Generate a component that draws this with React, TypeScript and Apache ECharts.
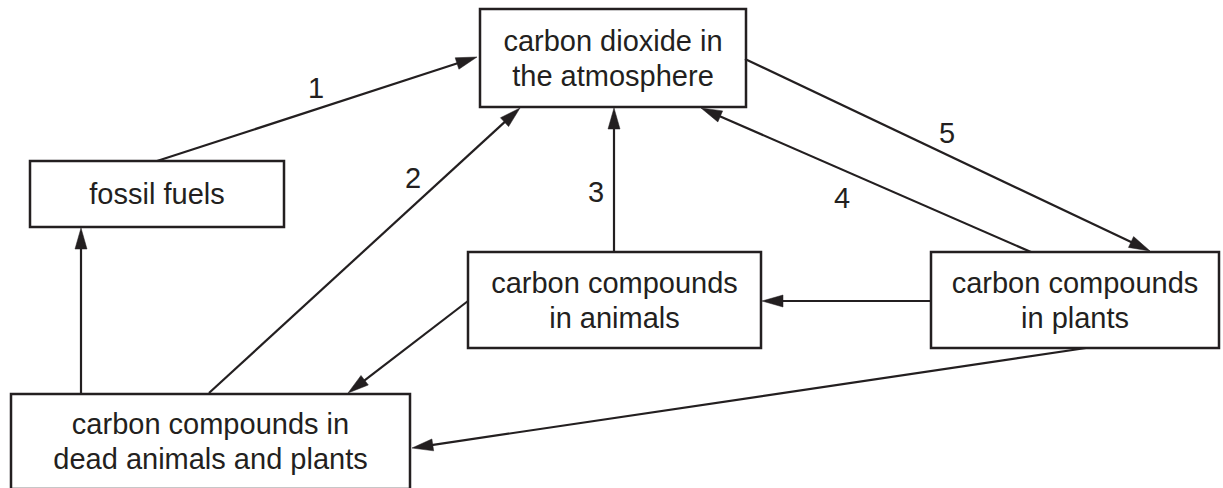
import React, { useEffect, useRef } from "react";
import * as echarts from "echarts";

const INK = "#231f20";
const FONT = "'Liberation Sans', Arial, Helvetica, sans-serif";

// Diagram boxes (in diagram coordinates, 0..1223 x 0..488)
const boxLabels = [
  "carbon dioxide in\nthe atmosphere",
  "fossil fuels",
  "carbon compounds\nin animals",
  "carbon compounds\nin plants",
  "carbon compounds in\ndead animals and plants",
];
const boxLeft = [480, 30, 468, 931, 11];
const boxTop = [9, 161, 252, 252, 394];
const boxRight = [746, 284, 761, 1219, 410];
const boxBottom = [107, 227, 348, 348, 489];

// Arrows: from (x1,y1) to tip (x2,y2)
const arrowX1 = [157, 209, 614, 1031, 745, 931, 468, 81, 1086];
const arrowY1 = [161, 393, 252, 252, 59, 301, 301, 394, 348];
const arrowX2 = [477, 520, 614, 701, 1150, 762, 348, 81, 412];
const arrowY2 = [57, 108, 108, 108, 251, 301, 393, 228, 448];

// Step number labels
const stepLabels = ["1", "2", "3", "4", "5"];
const stepX = [316, 413, 596, 842, 947];
const stepY = [88, 178, 192, 198, 133];

export default function App() {
  const ref = useRef<HTMLDivElement>(null);

  useEffect(() => {
    document.body.style.margin = "0";
    if (!ref.current) return;
    const chart = echarts.init(ref.current, null, { renderer: "svg" });

    const option: any = {
      animation: false,
      backgroundColor: "#ffffff",
      grid: { left: 0, right: 0, top: 0, bottom: 0 },
      xAxis: { type: "value", min: 0, max: 1223, show: false },
      yAxis: { type: "value", min: 0, max: 488, inverse: true, show: false },
      series: [
        {
          type: "custom",
          name: "boxes",
          coordinateSystem: "cartesian2d",
          clip: false,
          silent: true,
          data: boxLeft.map((x, i) => [x, boxTop[i], boxRight[i], boxBottom[i]]),
          renderItem: (params: any, api: any) => {
            const i = params.dataIndex;
            const p1 = api.coord([boxLeft[i], boxTop[i]]);
            const p2 = api.coord([boxRight[i], boxBottom[i]]);
            return {
              type: "group",
              children: [
                {
                  type: "rect",
                  shape: { x: p1[0], y: p1[1], width: p2[0] - p1[0], height: p2[1] - p1[1] },
                  style: { fill: "none", stroke: INK, lineWidth: 2.5 },
                },
                {
                  type: "text",
                  x: (p1[0] + p2[0]) / 2,
                  y: (p1[1] + p2[1]) / 2,
                  style: {
                    text: boxLabels[i],
                    fill: INK,
                    fontSize: 29,
                    fontFamily: FONT,
                    align: "center",
                    verticalAlign: "middle",
                    lineHeight: 35,
                  },
                },
              ],
            };
          },
        },
        {
          type: "custom",
          name: "arrows",
          coordinateSystem: "cartesian2d",
          clip: false,
          silent: true,
          data: arrowX1.map((x, i) => [x, arrowY1[i], arrowX2[i], arrowY2[i]]),
          renderItem: (params: any, api: any) => {
            const i = params.dataIndex;
            const p1 = api.coord([arrowX1[i], arrowY1[i]]);
            const p2 = api.coord([arrowX2[i], arrowY2[i]]);
            const dx = p2[0] - p1[0];
            const dy = p2[1] - p1[1];
            const len = Math.hypot(dx, dy) || 1;
            const ux = dx / len;
            const uy = dy / len;
            const L = 21;
            const W = 6;
            const bx = p2[0] - ux * L;
            const by = p2[1] - uy * L;
            const px = -uy;
            const py = ux;
            return {
              type: "group",
              children: [
                {
                  type: "line",
                  shape: { x1: p1[0], y1: p1[1], x2: bx + ux * 3, y2: by + uy * 3 },
                  style: { stroke: INK, lineWidth: 2.2 },
                },
                {
                  type: "polygon",
                  shape: {
                    points: [
                      [p2[0], p2[1]],
                      [bx + px * W, by + py * W],
                      [bx - px * W, by - py * W],
                    ],
                  },
                  style: { fill: INK, stroke: INK, lineWidth: 0.5 },
                },
              ],
            };
          },
        },
        {
          type: "custom",
          name: "steps",
          coordinateSystem: "cartesian2d",
          clip: false,
          silent: true,
          data: stepX.map((x, i) => [x, stepY[i]]),
          renderItem: (params: any, api: any) => {
            const i = params.dataIndex;
            const p = api.coord([stepX[i], stepY[i]]);
            return {
              type: "text",
              x: p[0],
              y: p[1],
              style: {
                text: stepLabels[i],
                fill: INK,
                fontSize: 29,
                fontFamily: FONT,
                align: "center",
                verticalAlign: "middle",
              },
            };
          },
        },
      ],
    };

    chart.setOption(option);
    return () => {
      chart.dispose();
    };
  }, []);

  return (
    <div
      ref={ref}
      style={{ position: "fixed", left: 0, top: 0, width: 1223, height: 488, background: "#fff" }}
    />
  );
}
